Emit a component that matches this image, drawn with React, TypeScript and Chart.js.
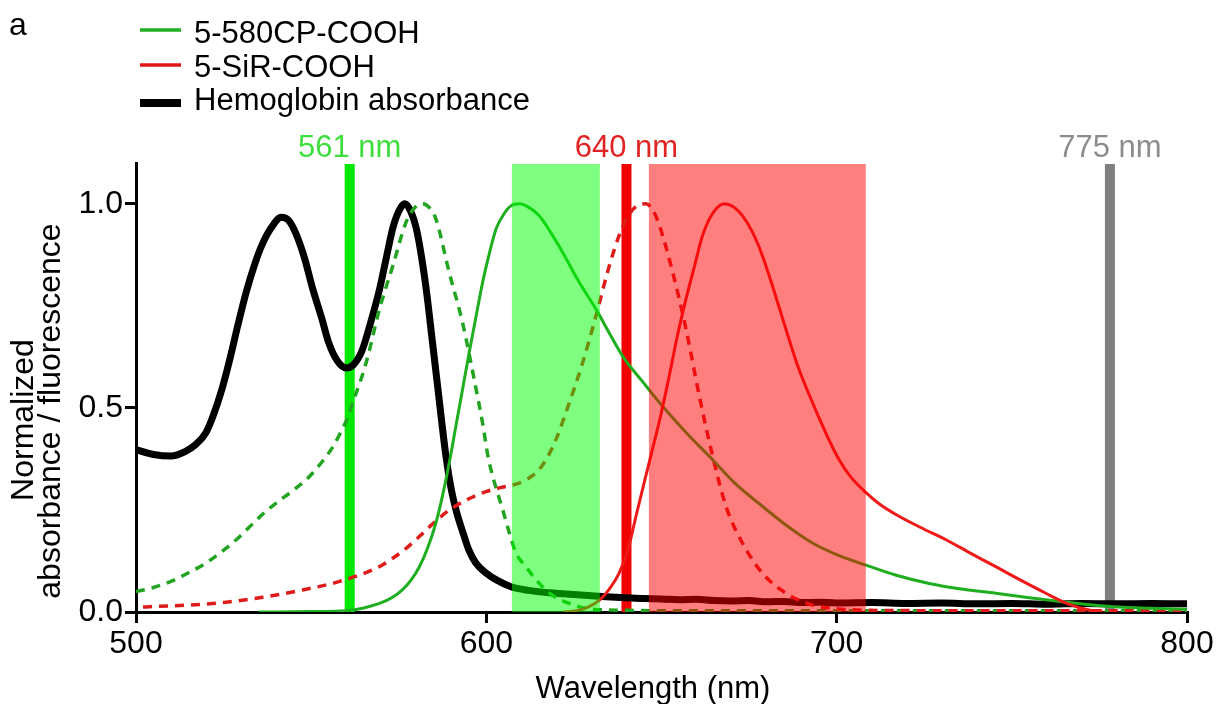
import React, { useEffect, useRef } from 'react';
import { Chart, registerables } from 'chart.js';

Chart.register(...registerables);

const FONT = "'Liberation Sans', Arial, Helvetica, sans-serif";

// Hemoglobin absorbance (black, thick)
const HB_NM = [500, 505, 510, 514, 517, 520, 522, 524.5, 527, 529, 531.5, 534, 536, 538.5, 541.5, 543.5, 545.5, 548, 550.5, 553, 555, 557.5, 560, 562, 564.5, 567, 569.5, 571.5, 573.5, 575.5, 576.8, 578.5, 580, 581.5, 583, 584.5, 586, 588.5, 590, 591.5, 593.5, 595, 597, 600, 603, 607, 612, 618, 626, 633, 640, 645, 650, 655, 660, 665, 670, 675, 680, 685, 690, 695, 700, 710, 720, 730, 740, 750, 760, 770, 780, 790, 800];
const HB_VAL = [0.398, 0.386, 0.382, 0.393, 0.41, 0.44, 0.48, 0.545, 0.627, 0.7, 0.785, 0.855, 0.9, 0.94, 0.967, 0.96, 0.93, 0.87, 0.79, 0.72, 0.66, 0.615, 0.598, 0.605, 0.64, 0.71, 0.79, 0.87, 0.947, 0.99, 1.0, 0.98, 0.94, 0.87, 0.78, 0.67, 0.56, 0.38, 0.3, 0.245, 0.19, 0.152, 0.12, 0.095, 0.078, 0.062, 0.053, 0.047, 0.042, 0.038, 0.035, 0.033, 0.032, 0.03, 0.031, 0.028, 0.027, 0.028, 0.025, 0.026, 0.023, 0.024, 0.022, 0.023, 0.021, 0.022, 0.02, 0.021, 0.019, 0.021, 0.02, 0.021, 0.02];

// 5-580CP-COOH absorbance (green, dashed)
const CP_ABS_NM = [500, 505, 510.5, 515, 520, 524, 528.6, 532, 536.2, 540, 544.7, 549.5, 553.3, 556, 558, 560, 561.9, 565.7, 569.5, 573.3, 577.1, 579.5, 581.8, 583.8, 585.6, 589.4, 593.2, 597.1, 598.9, 600.5, 601.8, 604.7, 606.6, 608.5, 611.3, 614.2, 618, 623.7, 629.4, 640, 660, 700, 750, 800];
const CP_ABS_VAL = [0.05, 0.06, 0.077, 0.096, 0.12, 0.145, 0.177, 0.205, 0.24, 0.267, 0.297, 0.332, 0.37, 0.402, 0.433, 0.468, 0.513, 0.611, 0.742, 0.848, 0.955, 0.99, 1.0, 0.99, 0.963, 0.832, 0.709, 0.545, 0.464, 0.38, 0.333, 0.25, 0.193, 0.144, 0.111, 0.079, 0.046, 0.021, 0.008, 0.004, 0.003, 0.003, 0.003, 0.003];

// 5-580CP-COOH emission (green, solid)
const CP_EM_NM = [535, 550, 560, 565, 569.5, 573, 576.1, 578.5, 580.9, 583.3, 585.6, 587.5, 589.4, 591.3, 593.2, 595.1, 597.1, 599, 600.9, 602.8, 605, 607, 609.4, 612, 615.1, 618, 621.8, 626, 631.3, 635, 638.9, 645, 650.3, 657, 664.6, 671, 678.8, 686, 693.1, 700.7, 708.3, 717, 726.4, 735, 745.4, 755, 764.4, 772, 778.7, 790, 800];
const CP_EM_VAL = [0, 0.001, 0.003, 0.01, 0.021, 0.035, 0.055, 0.078, 0.111, 0.158, 0.218, 0.285, 0.365, 0.455, 0.545, 0.635, 0.726, 0.81, 0.88, 0.939, 0.975, 0.995, 1.0, 0.992, 0.971, 0.935, 0.881, 0.815, 0.742, 0.685, 0.627, 0.56, 0.504, 0.44, 0.373, 0.315, 0.259, 0.21, 0.169, 0.138, 0.115, 0.09, 0.07, 0.057, 0.046, 0.035, 0.025, 0.018, 0.013, 0.009, 0.007];

// 5-SiR-COOH absorbance (red, dashed)
const SIR_ABS_NM = [502, 504, 515.3, 525.7, 536.2, 547.6, 558.1, 568.5, 573, 577.1, 581, 584.7, 589, 594.2, 599.9, 603.7, 609.4, 612.5, 615.1, 617.5, 619.9, 623.7, 627.5, 631.3, 635.1, 637.9, 640.5, 642.7, 645.5, 647.5, 649.4, 653.2, 657, 660.8, 664.6, 668.4, 673.1, 678.8, 685.5, 693.1, 698.8, 710, 750, 800];
const SIR_ABS_VAL = [0.012, 0.013, 0.017, 0.024, 0.036, 0.054, 0.075, 0.107, 0.13, 0.156, 0.186, 0.216, 0.247, 0.274, 0.295, 0.304, 0.316, 0.33, 0.349, 0.38, 0.423, 0.513, 0.611, 0.726, 0.848, 0.922, 0.97, 0.993, 1.0, 0.985, 0.947, 0.832, 0.693, 0.529, 0.382, 0.259, 0.169, 0.095, 0.046, 0.017, 0.009, 0.004, 0.003, 0.003];

// 5-SiR-COOH emission (red, solid)
const SIR_EM_NM = [622, 625.6, 629, 632.3, 635, 637.9, 640.5, 642.7, 645, 647.4, 650, 652.2, 654.5, 657, 659.5, 661.7, 664.5, 667.9, 670.5, 673.1, 676, 678.8, 682, 685.5, 689, 693.1, 697.9, 700.7, 704, 708.3, 712, 716.9, 724, 731.2, 738, 745.4, 752.5, 759.7, 766, 772, 776];
const SIR_EM_VAL = [0, 0.003, 0.012, 0.029, 0.055, 0.095, 0.155, 0.234, 0.315, 0.398, 0.49, 0.578, 0.675, 0.767, 0.85, 0.922, 0.975, 1.0, 0.993, 0.971, 0.93, 0.873, 0.79, 0.693, 0.6, 0.513, 0.42, 0.373, 0.331, 0.293, 0.266, 0.239, 0.207, 0.177, 0.145, 0.111, 0.078, 0.046, 0.02, 0.005, 0];

const X_TICKS = [500, 600, 700, 800];
const Y_TICKS = [0, 0.5, 1.0];

const LASER_NM = [561, 640, 778];
const LASER_LABELS = ['561 nm', '640 nm', '775 nm'];
const LASER_COLORS = ['#00e800', '#f20000', '#808080'];
const LASER_TEXT_COLORS = ['#3ede3e', '#e02424', '#8c8c8c'];

const BAND_START = [607.3, 646.4];
const BAND_END = [632.4, 708.3];
const BAND_COLORS = ['rgba(0,255,0,0.5)', 'rgba(255,0,0,0.5)'];

const LEGEND_LABELS = ['5-580CP-COOH', '5-SiR-COOH', 'Hemoglobin absorbance'];
const LEGEND_COLORS = ['#22b022', '#e01818', '#000000'];
const LEGEND_WIDTHS = [3.5, 3.5, 8];

const X_TITLE = 'Wavelength (nm)';
const Y_TITLE = ['Normalized', 'absorbance / fluorescence'];
const PANEL = 'a';

const GREEN = '#1fae1f';
const GREEN_DASH = '#22a422';
const RED = '#ee1a1a';
const RED_DASH = '#de1c1c';

const pts = (xs: number[], ys: number[]) => xs.map((x, i) => ({ x, y: ys[i] }));

const overlayPlugin = {
  id: 'overlay',
  beforeDatasetsDraw(chart: any) {
    const { ctx, chartArea, scales } = chart;
    const x = scales.x;
    ctx.save();
    LASER_NM.forEach((nm, i) => {
      const px = x.getPixelForValue(nm);
      ctx.fillStyle = LASER_COLORS[i];
      ctx.fillRect(px - 5, chartArea.top + 1, 10, chartArea.bottom - chartArea.top - 1);
    });
    ctx.restore();
  },
  afterDatasetsDraw(chart: any) {
    const { ctx, chartArea, scales } = chart;
    const x = scales.x;
    ctx.save();
    BAND_START.forEach((s, i) => {
      const a = x.getPixelForValue(s);
      const b = x.getPixelForValue(BAND_END[i]);
      ctx.fillStyle = BAND_COLORS[i];
      ctx.fillRect(a, chartArea.top + 1, b - a, chartArea.bottom - chartArea.top - 1);
    });
    ctx.restore();
  },
  afterDraw(chart: any) {
    const { ctx, chartArea, scales } = chart;
    const x = scales.x;
    ctx.save();
    // laser labels
    ctx.font = `31px ${FONT}`;
    ctx.textAlign = 'center';
    ctx.textBaseline = 'alphabetic';
    LASER_NM.forEach((nm, i) => {
      ctx.fillStyle = LASER_TEXT_COLORS[i];
      ctx.fillText(LASER_LABELS[i], x.getPixelForValue(nm), chartArea.top - 6);
    });
    // panel label
    ctx.fillStyle = '#000';
    ctx.textAlign = 'left';
    ctx.font = `32px ${FONT}`;
    ctx.fillText(PANEL, 9, 35);
    // legend
    ctx.font = `31px ${FONT}`;
    const rowBase = [43, 77, 110];
    const lineY = [30, 65, 103];
    LEGEND_LABELS.forEach((lab, i) => {
      ctx.strokeStyle = LEGEND_COLORS[i];
      ctx.lineWidth = LEGEND_WIDTHS[i];
      ctx.beginPath();
      ctx.moveTo(140, lineY[i]);
      ctx.lineTo(181, lineY[i]);
      ctx.stroke();
      ctx.fillStyle = '#000';
      ctx.fillText(lab, 194, rowBase[i]);
    });
    // x title
    ctx.textAlign = 'center';
    ctx.font = `31px ${FONT}`;
    ctx.fillText(X_TITLE, 653, 698);
    // y title
    ctx.font = `32px ${FONT}`;
    const yBase = [33, 60];
    const yCenter = [420, 411];
    Y_TITLE.forEach((t, i) => {
      ctx.save();
      ctx.translate(yBase[i], yCenter[i]);
      ctx.rotate(-Math.PI / 2);
      ctx.textAlign = 'center';
      ctx.textBaseline = 'alphabetic';
      ctx.fillText(t, 0, 0);
      ctx.restore();
    });
    ctx.restore();
  },
};

export default function App() {
  const ref = useRef<HTMLCanvasElement>(null);
  useEffect(() => {
    const canvas = ref.current;
    if (!canvas) return;
    const tickFont = { family: FONT, size: 32 };
    const dashed = { borderWidth: 3.5, borderDash: [9, 7], borderCapStyle: 'butt' };
    const chart = new Chart(canvas, {
      type: 'line',
      data: {
        datasets: [
          {
            label: 'Hemoglobin absorbance',
            data: pts(HB_NM, HB_VAL),
            borderColor: '#000',
            borderWidth: 7,
            pointRadius: 0,
            cubicInterpolationMode: 'monotone',
            order: 10,
          },
          {
            label: '5-580CP-COOH absorbance',
            data: pts(CP_ABS_NM, CP_ABS_VAL),
            borderColor: GREEN_DASH,
            ...dashed,
            pointRadius: 0,
            cubicInterpolationMode: 'monotone',
            order: 4,
          },
          {
            label: '5-SiR-COOH absorbance',
            data: pts(SIR_ABS_NM, SIR_ABS_VAL),
            borderColor: RED_DASH,
            ...dashed,
            pointRadius: 0,
            cubicInterpolationMode: 'monotone',
            order: 3,
          },
          {
            label: '5-580CP-COOH emission',
            data: pts(CP_EM_NM, CP_EM_VAL),
            borderColor: GREEN,
            borderWidth: 3,
            pointRadius: 0,
            cubicInterpolationMode: 'monotone',
            order: 2,
          },
          {
            label: '5-SiR-COOH emission',
            data: pts(SIR_EM_NM, SIR_EM_VAL),
            borderColor: RED,
            borderWidth: 3,
            pointRadius: 0,
            cubicInterpolationMode: 'monotone',
            order: 1,
          },
        ],
      },
      options: {
        responsive: false,
        animation: false,
        layout: { padding: { top: 163, right: 33, left: 0, bottom: 0 } },
        plugins: {
          legend: { display: false },
          tooltip: { enabled: false },
          title: { display: false },
        },
        scales: {
          x: {
            type: 'linear',
            min: 500,
            max: 800,
            afterBuildTicks: (s: any) => {
              s.ticks = X_TICKS.map((v) => ({ value: v }));
            },
            afterFit: (s: any) => {
              s.height = 92;
            },
            ticks: {
              font: tickFont,
              color: '#000',
              padding: 2,
              maxRotation: 0,
              callback: (v: any) => String(v),
            },
            grid: {
              drawOnChartArea: false,
              drawTicks: true,
              tickLength: 11,
              tickWidth: 3,
              lineWidth: 3,
              tickColor: '#000',
              color: '#000',
            },
            border: { display: true, color: '#000', width: 3 },
          },
          y: {
            type: 'linear',
            min: 0,
            max: 1.1,
            afterBuildTicks: (s: any) => {
              s.ticks = Y_TICKS.map((v) => ({ value: v }));
            },
            afterFit: (s: any) => {
              s.width = 136;
            },
            ticks: {
              font: tickFont,
              color: '#000',
              padding: 2,
              callback: (v: any) => Number(v).toFixed(1),
            },
            grid: {
              drawOnChartArea: false,
              drawTicks: true,
              tickLength: 11,
              tickWidth: 3,
              lineWidth: 3,
              tickColor: '#000',
              color: '#000',
            },
            border: { display: true, color: '#000', width: 3 },
          },
        },
      },
      plugins: [overlayPlugin],
    } as any);
    return () => chart.destroy();
  }, []);
  return (
    <div style={{ position: 'absolute', left: 0, top: 0, width: 1220, height: 704, background: '#fff' }}>
      <canvas ref={ref} width={1220} height={704} style={{ display: 'block', width: 1220, height: 704 }} />
    </div>
  );
}
